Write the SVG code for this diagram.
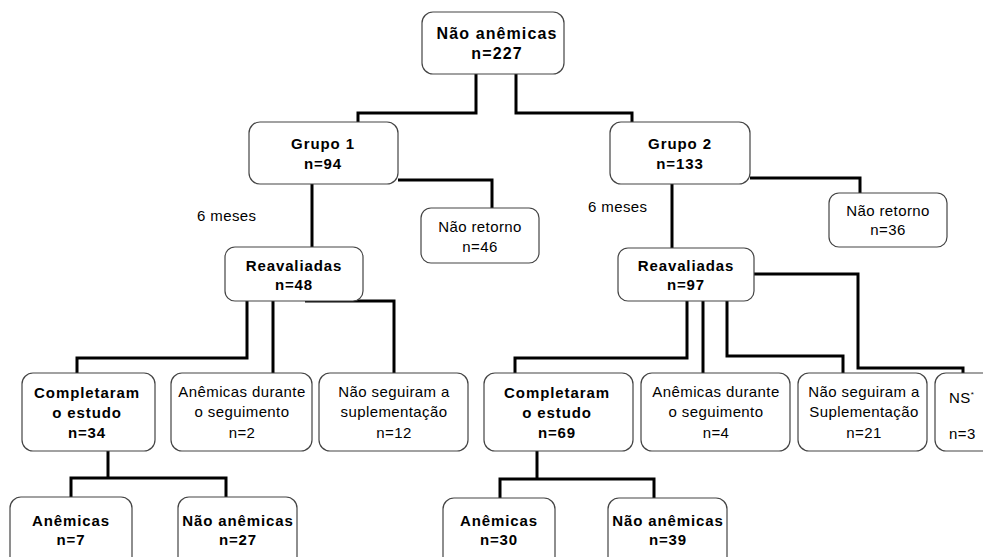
<svg xmlns="http://www.w3.org/2000/svg" width="983" height="557" viewBox="0 0 983 557">
<style>
.box{fill:#fff;stroke:#444;stroke-width:1.2}
.c{fill:none;stroke:#000;stroke-width:3;stroke-linejoin:miter}
text{font-family:"Liberation Sans",Arial,sans-serif;fill:#000;text-anchor:middle}
.b{font-weight:bold;font-size:15px;letter-spacing:0.9px}
.r{font-size:15px;letter-spacing:0.4px}
.t{font-weight:bold;font-size:16px;letter-spacing:1.1px}
.l{text-anchor:start}
</style>
<rect width="983" height="557" fill="#fff"/>
<g id="connectors">
<path class="c" d="M476,74V113H358V122"/>
<path class="c" d="M516,74V113H632V122"/>
<path class="c" d="M398,180H492V208"/>
<path class="c" d="M312,184V247"/>
<path class="c" d="M750,178H860V193"/>
<path class="c" d="M672,184V248"/>
<path class="c" d="M247,300V358H77V373"/>
<path class="c" d="M273,300V373"/>
<path class="c" d="M305,301H394V373"/>
<path class="c" d="M687,300V358H515V373"/>
<path class="c" d="M703,300V373"/>
<path class="c" d="M727,300V356H843V373"/>
<path class="c" d="M754,274H858V368H963V373"/>
<path class="c" d="M108,451V478"/>
<path class="c" d="M71,497V478H226V497"/>
<path class="c" d="M537,451V479"/>
<path class="c" d="M500,498V479H654V498"/>
</g>
<g id="n-top"><rect class="box" x="422" y="12" width="142" height="62" rx="11"/><text class="t" x="497" y="39">Não anêmicas</text><text class="t" x="497" y="59">n=227</text></g>
<g id="n-g1"><rect class="box" x="249" y="122" width="149" height="62" rx="11"/><text class="b" x="323" y="149">Grupo 1</text><text class="b" x="323" y="169">n=94</text></g>
<g id="n-g2"><rect class="box" x="610" y="122" width="140" height="62" rx="11"/><text class="b" x="680" y="149">Grupo 2</text><text class="b" x="680" y="169">n=133</text></g>
<text class="r l" x="197" y="221">6 meses</text>
<text class="r l" x="588" y="212">6 meses</text>
<g id="n-nr1"><rect class="box" x="421" y="208" width="118" height="55" rx="10"/><text class="r" x="480" y="232">Não retorno</text><text class="r" x="480" y="252">n=46</text></g>
<g id="n-nr2"><rect class="box" x="829" y="193" width="118" height="54" rx="10"/><text class="r" x="888" y="216">Não retorno</text><text class="r" x="888" y="235">n=36</text></g>
<g id="n-r1"><rect class="box" x="225" y="247" width="138" height="54" rx="10"/><text class="b" x="294" y="271">Reavaliadas</text><text class="b" x="294" y="290">n=48</text></g>
<g id="n-r2"><rect class="box" x="618" y="248" width="136" height="53" rx="10"/><text class="b" x="686" y="271">Reavaliadas</text><text class="b" x="686" y="290">n=97</text></g>
<g id="n-c1"><rect class="box" x="22" y="373" width="133" height="78" rx="11"/><text class="b" x="87" y="398">Completaram</text><text class="b" x="87" y="418">o estudo</text><text class="b" x="87" y="438">n=34</text></g>
<g id="n-a1"><rect class="box" x="171" y="373" width="141" height="78" rx="11"/><text class="r" x="242" y="397">Anêmicas durante</text><text class="r" x="242" y="417">o seguimento</text><text class="r" x="242" y="438">n=2</text></g>
<g id="n-s1"><rect class="box" x="319" y="373" width="149" height="78" rx="11"/><text class="r" x="394" y="397">Não seguiram a</text><text class="r" x="394" y="417">suplementação</text><text class="r" x="394" y="438">n=12</text></g>
<g id="n-c2"><rect class="box" x="484" y="373" width="149" height="78" rx="11"/><text class="b" x="557" y="398">Completaram</text><text class="b" x="557" y="418">o estudo</text><text class="b" x="557" y="438">n=69</text></g>
<g id="n-a2"><rect class="box" x="641" y="373" width="149" height="78" rx="11"/><text class="r" x="716" y="397">Anêmicas durante</text><text class="r" x="716" y="417">o seguimento</text><text class="r" x="716" y="438">n=4</text></g>
<g id="n-s2"><rect class="box" x="798" y="373" width="129" height="78" rx="11"/><text class="r" x="864" y="397">Não seguiram a</text><text class="r" x="864" y="417">Suplementação</text><text class="r" x="864" y="438">n=21</text></g>
<g id="n-ns"><rect class="box" x="935" y="373" width="70" height="78" rx="11"/><text class="r l" x="949" y="403">NS<tspan font-size="8" dy="-6">*</tspan></text><text class="r l" x="949" y="439">n=3</text></g>
<g id="n-an1"><rect class="box" x="10" y="497" width="122" height="80" rx="11"/><text class="b" x="71" y="526">Anêmicas</text><text class="b" x="71" y="545">n=7</text></g>
<g id="n-na1"><rect class="box" x="178" y="497" width="119" height="80" rx="11"/><text class="b" x="238" y="526">Não anêmicas</text><text class="b" x="238" y="545">n=27</text></g>
<g id="n-an2"><rect class="box" x="443" y="498" width="112" height="80" rx="11"/><text class="b" x="499" y="526">Anêmicas</text><text class="b" x="499" y="545">n=30</text></g>
<g id="n-na2"><rect class="box" x="608" y="498" width="119" height="80" rx="11"/><text class="b" x="668" y="526">Não anêmicas</text><text class="b" x="668" y="545">n=39</text></g>
</svg>
